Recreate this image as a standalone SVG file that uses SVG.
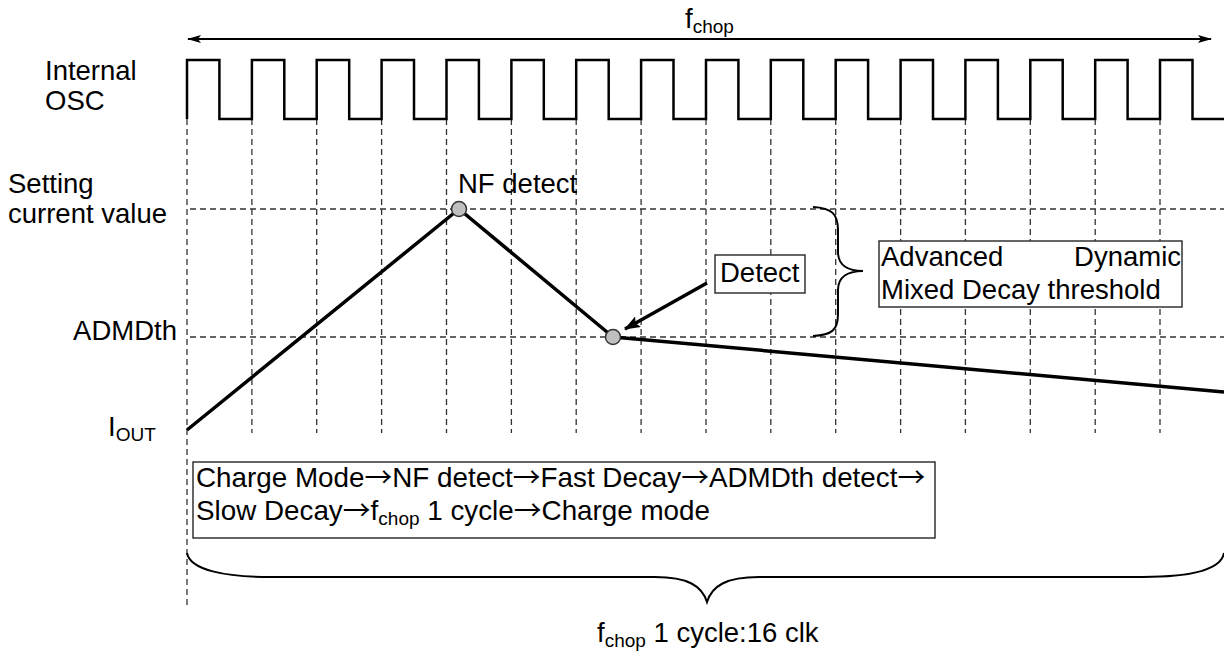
<svg xmlns="http://www.w3.org/2000/svg" width="1224" height="651" viewBox="0 0 1224 651">
  <style>
    text { font-family: "Liberation Sans", Arial, sans-serif; font-size: 27.5px; fill: #000; }
    .sub { font-size: 19px; }
    .seq { font-size: 27.8px; }
    .arw { font-family: "Noto Sans CJK JP", "Liberation Sans", sans-serif; }
    .grid { stroke: #333; stroke-width: 1.3; stroke-dasharray: 6 4; fill: none; }
    .clk { stroke: #000; stroke-width: 2.5; fill: none; stroke-linejoin: miter; }
    .cur { stroke: #000; stroke-width: 3.5; fill: none; stroke-linejoin: round; }
    .brace { stroke: #000; stroke-width: 2; fill: none; }
    .box { fill: #fff; stroke: #333; stroke-width: 1.5; }
    .dot { fill: #c0c0c0; stroke: #333; stroke-width: 1.5; }
  </style>
  <defs>
    <marker id="arrEnd" viewBox="0 0 14 10" refX="13" refY="5" markerWidth="14" markerHeight="10" markerUnits="userSpaceOnUse" orient="auto">
      <path d="M0,1 L14,5 L0,9 L3,5 Z" fill="#000"/>
    </marker>
    <marker id="arrStart" viewBox="0 0 14 10" refX="1" refY="5" markerWidth="14" markerHeight="10" markerUnits="userSpaceOnUse" orient="auto">
      <path d="M14,1 L0,5 L14,9 L11,5 Z" fill="#000"/>
    </marker>
    <marker id="arrBold" viewBox="0 0 16 12" refX="15" refY="6" markerWidth="16" markerHeight="12" markerUnits="userSpaceOnUse" orient="auto">
      <path d="M0,0 L16,6 L0,12 L3,6 Z" fill="#000"/>
    </marker>
  </defs>

  <!-- clock edge grid -->
  <g id="grid">
    <line class="grid" x1="187" y1="119" x2="187" y2="607"/>
    <line class="grid" x1="251.9" y1="119" x2="251.9" y2="433"/>
    <line class="grid" x1="316.7" y1="119" x2="316.7" y2="433"/>
    <line class="grid" x1="381.6" y1="119" x2="381.6" y2="433"/>
    <line class="grid" x1="446.5" y1="119" x2="446.5" y2="433"/>
    <line class="grid" x1="511.4" y1="119" x2="511.4" y2="433"/>
    <line class="grid" x1="576.2" y1="119" x2="576.2" y2="433"/>
    <line class="grid" x1="641.1" y1="119" x2="641.1" y2="433"/>
    <line class="grid" x1="706" y1="119" x2="706" y2="433"/>
    <line class="grid" x1="770.8" y1="119" x2="770.8" y2="433"/>
    <line class="grid" x1="835.7" y1="119" x2="835.7" y2="433"/>
    <line class="grid" x1="900.6" y1="119" x2="900.6" y2="433"/>
    <line class="grid" x1="965.4" y1="119" x2="965.4" y2="433"/>
    <line class="grid" x1="1030.3" y1="119" x2="1030.3" y2="433"/>
    <line class="grid" x1="1095.2" y1="119" x2="1095.2" y2="433"/>
    <line class="grid" x1="1160" y1="119" x2="1160" y2="433"/>
    <line class="grid" x1="190" y1="209" x2="1224" y2="209"/>
    <line class="grid" x1="190" y1="337" x2="1224" y2="337"/>
  </g>

  <!-- f_chop span -->
  <g id="fchop-span">
    <line x1="188" y1="39" x2="1211" y2="39" stroke="#000" stroke-width="2" marker-start="url(#arrStart)" marker-end="url(#arrEnd)"/>
    <text x="685" y="28">f<tspan class="sub" dy="5">chop</tspan></text>
  </g>

  <!-- internal oscillator -->
  <g id="osc">
    <text x="45" y="80">Internal</text>
    <text x="45" y="110">OSC</text>
    <path class="clk" d="M187,119 V60 H219.4 V119 H251.9 V60 H284.3 V119 H316.7 V60 H349.2 V119 H381.6 V60 H414 V119 H446.5 V60 H478.9 V119 H511.4 V60 H543.8 V119 H576.2 V60 H608.7 V119 H641.1 V60 H673.5 V119 H706 V60 H738.4 V119 H770.8 V60 H803.3 V119 H835.7 V60 H868.1 V119 H900.6 V60 H933 V119 H965.4 V60 H997.9 V119 H1030.3 V60 H1062.7 V119 H1095.2 V60 H1127.6 V119 H1160 V60 H1192.5 V119 H1224"/>
  </g>

  <!-- level labels -->
  <g id="levels">
    <text x="8" y="193">Setting</text>
    <text x="8" y="223">current value</text>
    <text x="177" y="340" text-anchor="end">ADMDth</text>
    <text x="108" y="436">I<tspan class="sub" dy="5">OUT</tspan></text>
  </g>

  <!-- output current -->
  <g id="iout">
    <path class="cur" d="M187,430 L459,209 L613,337 L1224,392"/>
  </g>

  <g id="nf-detect">
    <circle class="dot" cx="459" cy="209" r="7.5"/>
    <text x="458" y="193">NF detect</text>
  </g>

  <g id="admd-detect">
    <circle class="dot" cx="613" cy="337" r="7.5"/>
  </g>

  <g id="detect-label">
    <rect class="box" x="715" y="255" width="90" height="38"/>
    <text x="720" y="282">Detect</text>
  </g>

  <g id="threshold">
    <path class="brace" d="M813,207 C832,208 838,214 838,230 L838,252 C838,265 848,271 863,271 C848,271 838,277 838,290 L838,314 C838,330 832,335 813,336"/>
    <rect class="box" x="879" y="241" width="303" height="66"/>
    <text x="881" y="266">Advanced</text>
    <text x="1181" y="266" text-anchor="end">Dynamic</text>
    <text x="881" y="299">Mixed Decay threshold</text>
  </g>

  <g id="sequence">
    <rect class="box" x="193" y="462" width="742" height="76"/>
    <text class="seq" x="196" y="487">Charge Mode<tspan class="arw">→</tspan>NF detect<tspan class="arw">→</tspan>Fast Decay<tspan class="arw">→</tspan>ADMDth detect<tspan class="arw">→</tspan></text>
    <text class="seq" x="196" y="520">Slow Decay<tspan class="arw">→</tspan>f<tspan class="sub" dy="5">chop</tspan><tspan dy="-5"> 1 cycle</tspan><tspan class="arw">→</tspan>Charge mode</text>
  </g>

  <g id="cycle">
    <path class="brace" d="M187,553 C190,570 225,577 270,577 L655,577 C688,577 702,586 707,602 C712,586 726,577 759,577 L1143,577 C1190,577 1221,570 1224,553"/>
    <text x="597" y="642">f<tspan class="sub" dy="5">chop</tspan><tspan dy="-5"> 1 cycle:16 clk</tspan></text>
  </g>

  <!-- connectors -->
  <g id="connectors">
    <line x1="707" y1="283" x2="625" y2="329" stroke="#000" stroke-width="3.5" marker-end="url(#arrBold)"/>
  </g>
</svg>
